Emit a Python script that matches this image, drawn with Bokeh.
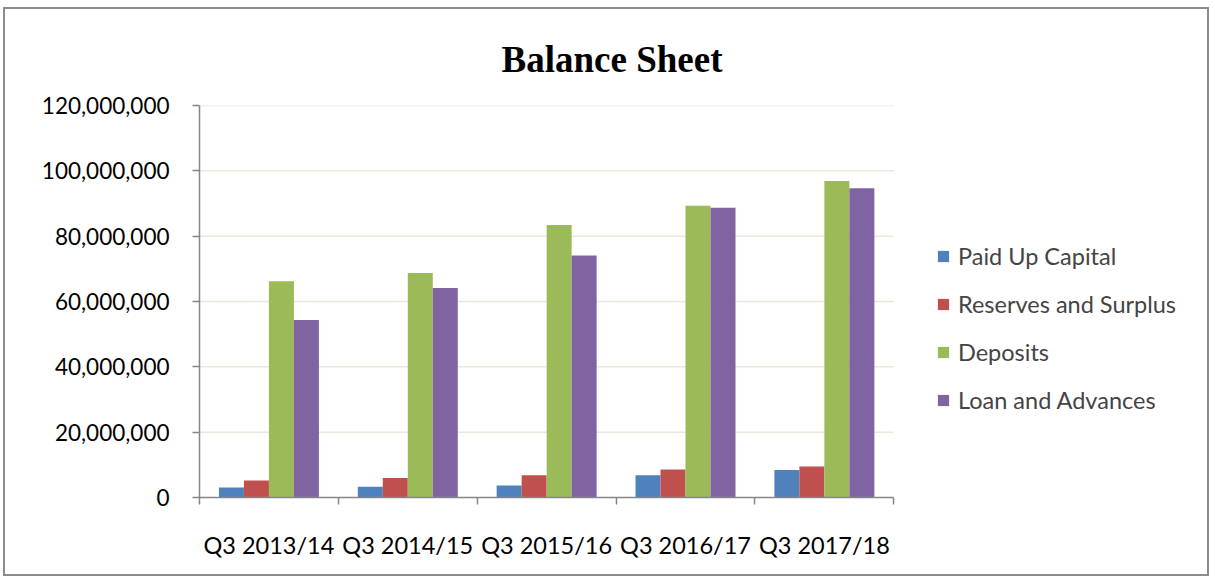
import numpy as np
from bokeh.plotting import figure
from bokeh.models import (ColumnDataSource, Range1d, LinearAxis, FixedTicker,
                          NumeralTickFormatter, Legend, LegendItem)
from bokeh.embed import file_html
from bokeh.resources import INLINE

categories = ["Q3 2013/14", "Q3 2014/15", "Q3 2015/16", "Q3 2016/17", "Q3 2017/18"]
series_names = ["Paid Up Capital", "Reserves and Surplus", "Deposits", "Loan and Advances"]
paid_up_capital = [3.06e6, 3.26e6, 3.7e6, 6.8e6, 8.4e6]
reserves_and_surplus = [5.2e6, 6.0e6, 6.8e6, 8.6e6, 9.5e6]
deposits = [66.2e6, 68.7e6, 83.4e6, 89.3e6, 96.9e6]
loan_and_advances = [54.3e6, 64.1e6, 74.1e6, 88.7e6, 94.7e6]
y_ticks = [0, 20e6, 40e6, 60e6, 80e6, 100e6, 120e6]

colors = ["#4F81BD", "#C0504D", "#9BBB59", "#8064A2"]
series = [paid_up_capital, reserves_and_surplus, deposits, loan_and_advances]

FONT = "Lato"
FS_Y = "22.5px"
FS = "23.5px"

n = len(categories)
# the plot frame extends to the right edge so the legend can live inside it;
# the category area occupies only the left part (139 px per category)
frame_w = 1206 - 194
x_end = frame_w / 138.86

p = figure(width=1206, height=569, output_backend="svg", toolbar_location=None,
           x_range=Range1d(0, x_end), y_range=Range1d(0, 120e6),
           x_axis_type=None, y_axis_type=None,
           min_border_left=194, min_border_right=0, min_border_top=96, min_border_bottom=81)
p.outline_line_color = None
p.background_fill_color = "white"
p.border_fill_color = "white"
p.styles = {"border": "2px solid #8C8C8C", "margin-left": "3px", "margin-top": "7px"}

p.title.text = "Balance Sheet"
p.title.text_font = "Liberation Serif"
p.title.text_font_style = "bold"
p.title.text_font_size = "37px"
p.title.align = "left"
p.title.offset = 302
p.title.standoff = 52
p.title.text_color = "black"

# horizontal gridlines over the category area only
p.segment(x0=[0] * (len(y_ticks) - 1), x1=[n] * (len(y_ticks) - 1),
          y0=y_ticks[1:], y1=y_ticks[1:], line_color="#EAE7DC", line_width=1.5)

centers = np.arange(n) + 0.5
bw = 0.18
items = []
for i, (name, vals, col) in enumerate(zip(series_names, series, colors)):
    src = ColumnDataSource(dict(x=centers + (i - 1.5) * bw, top=vals))
    r = p.vbar(x="x", top="top", width=bw, bottom=0, source=src,
               fill_color=col, line_color=None)
    items.append(LegendItem(label=name, renderers=[r]))

# y axis
yax = LinearAxis(ticker=FixedTicker(ticks=y_ticks), formatter=NumeralTickFormatter(format="0,0"))
yax.axis_line_color = "#868686"
yax.axis_line_width = 1.5
yax.major_tick_line_color = "#868686"
yax.major_tick_line_width = 1.5
yax.major_tick_in = 0
yax.major_tick_out = 7
yax.minor_tick_line_color = None
yax.major_label_text_font = FONT
yax.major_label_text_font_size = FS_Y
yax.major_label_text_color = "black"
yax.major_label_standoff = 23
p.add_layout(yax, "left")

# x axis: ticks at category boundaries (minor), labels at centers
xax = LinearAxis(ticker=FixedTicker(ticks=list(centers), minor_ticks=list(range(n + 1))),
                 bounds=(0, n))
xax.major_label_overrides = {float(c): cat for c, cat in zip(centers, categories)}
xax.axis_line_color = "#868686"
xax.axis_line_width = 1.5
xax.major_tick_line_color = None
xax.minor_tick_line_color = "#868686"
xax.minor_tick_line_width = 1.5
xax.minor_tick_in = 0
xax.minor_tick_out = 7
xax.major_label_text_font = FONT
xax.major_label_text_font_size = FS
xax.major_label_text_color = "black"
xax.major_label_standoff = 26
p.add_layout(xax, "below")

p.xgrid.grid_line_color = None
p.ygrid.grid_line_color = None

legend = Legend(items=items, location=(737, 83), orientation="vertical",
                glyph_width=14, glyph_height=14, label_height=22, spacing=20,
                label_text_font=FONT, label_text_font_size=FS, label_standoff=8,
                padding=0, margin=0, border_line_color=None, background_fill_alpha=0)
p.add_layout(legend, "center")

open("out.html", "w").write(file_html(p, INLINE))
